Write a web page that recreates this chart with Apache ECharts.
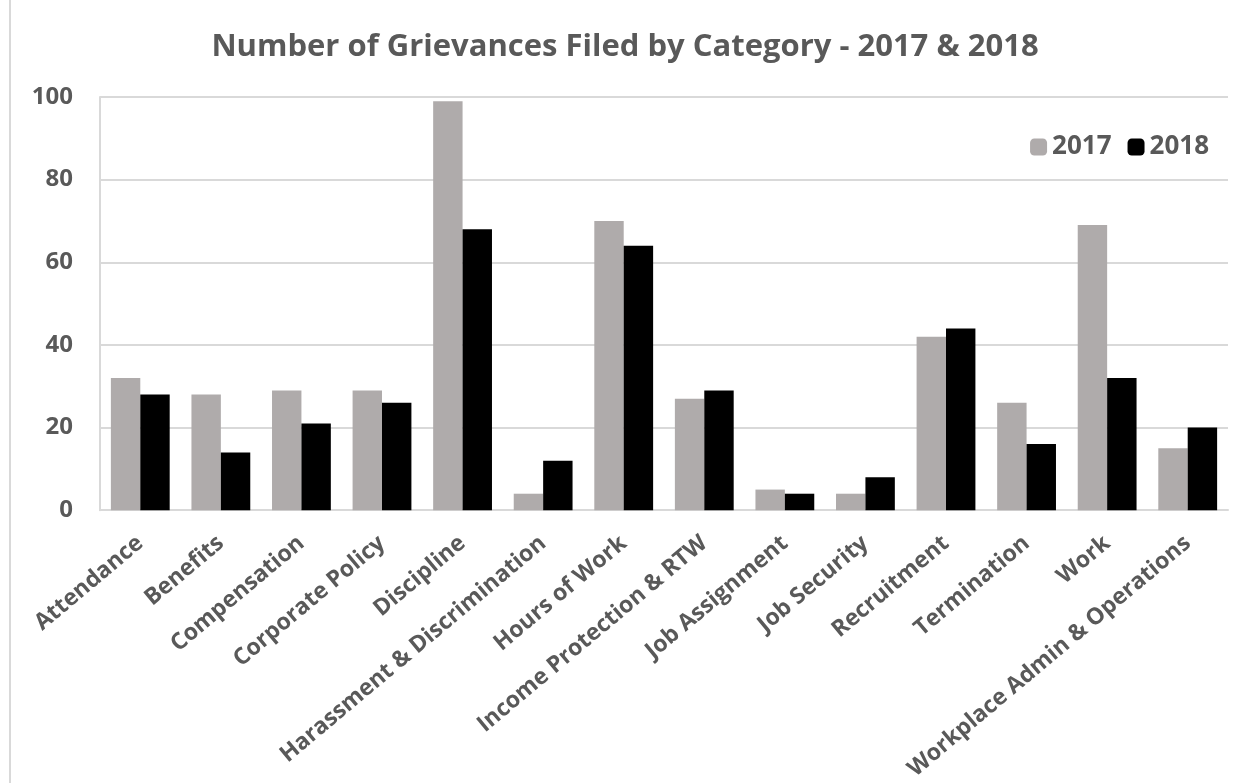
<!DOCTYPE html>
<html>
<head>
<meta charset="utf-8">
<script src="https://cdn.jsdelivr.net/npm/echarts@6/dist/echarts.min.js"></script>
<style>
  html, body { margin: 0; padding: 0; background: #fff; }
  #main { width: 1250px; height: 783px; }
</style>
</head>
<body>
<div id="main"></div>
<script>
// categories and values
var categories = ["Attendance", "Benefits", "Compensation", "Corporate Policy", "Discipline",
  "Harassment & Discrimination", "Hours of Work", "Income Protection & RTW", "Job Assignment",
  "Job Security", "Recruitment", "Termination", "Work", "Workplace Admin & Operations"];
var values2017 = [32, 28, 29, 29, 99, 4, 70, 27, 5, 4, 42, 26, 69, 15];
var values2018 = [28, 14, 21, 26, 68, 12, 64, 29, 4, 8, 44, 16, 32, 20];
var yTicks = [0, 20, 40, 60, 80, 100];

var font = "'Open Sans', 'DejaVu Sans', sans-serif";
var txt = "#595959";

var chart = echarts.init(document.getElementById("main"));

var option = {
  backgroundColor: "#fff",
  animation: false,
  title: {
    text: "Number of Grievances Filed by Category - 2017 & 2018",
    left: "center",
    top: 27,
    textStyle: { fontFamily: font, fontSize: 31, fontWeight: "bold", color: txt }
  },
  legend: {
    data: ["2017", "2018"],
    right: 36,
    top: 129,
    itemWidth: 17,
    itemHeight: 17,
    itemGap: 16,
    textStyle: { fontFamily: font, fontSize: 26, fontWeight: "bold", color: txt }
  },
  grid: { left: 100, right: 22, top: 97, bottom: 272 },
  xAxis: {
    type: "category",
    data: categories,
    axisLine: { lineStyle: { color: "#d9d9d9", width: 2 } },
    axisTick: { show: false },
    axisLabel: {
      rotate: 40,
      interval: 0,
      margin: 30,
      fontFamily: font,
      fontSize: 23,
      fontWeight: "bold",
      color: txt
    }
  },
  yAxis: {
    type: "value",
    min: yTicks[0],
    max: yTicks[yTicks.length - 1],
    interval: 20,
    axisLine: { show: true, lineStyle: { color: "#d9d9d9", width: 2 } },
    axisTick: { show: false },
    splitLine: { lineStyle: { color: "#d9d9d9", width: 2 } },
    axisLabel: {
      margin: 27,
      fontFamily: font,
      fontSize: 24,
      fontWeight: "bold",
      color: txt
    }
  },
  series: [
    {
      name: "2017",
      type: "bar",
      data: values2017,
      barGap: "0%",
      barCategoryGap: "27%",
      itemStyle: { color: "#afabab" }
    },
    {
      name: "2018",
      type: "bar",
      data: values2018,
      itemStyle: { color: "#000000" }
    }
  ],
  graphic: [
    {
      type: "line",
      shape: { x1: 10, y1: 0, x2: 10, y2: 783 },
      style: { stroke: "#d9d9d9", lineWidth: 2 }
    }
  ]
};

chart.setOption(option);
</script>
</body>
</html>
